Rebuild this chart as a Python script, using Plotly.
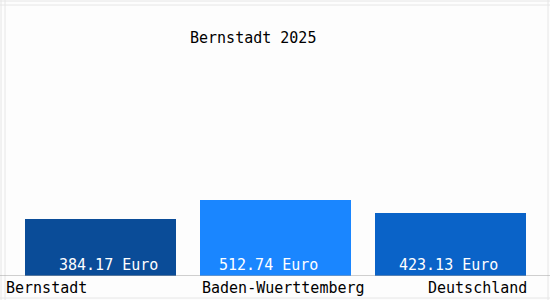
import plotly.graph_objects as go

categories = ["Bernstadt", "Baden-Wuerttemberg", "Deutschland"]
values = [384.17, 512.74, 423.13]
value_labels = ["384.17 Euro", "512.74 Euro", "423.13 Euro"]
colors = ["#0a4c98", "#1a86ff", "#0a63c8"]
title = "Bernstadt 2025"

FONT = "DejaVu Sans Mono"
xs = list(range(len(categories)))

fig = go.Figure()
fig.add_trace(go.Bar(
    x=xs, y=values, width=0.863,
    marker=dict(color=colors, line=dict(width=0)),
    hoverinfo="skip",
))

# value labels inside bars near the bottom
label_shift = [8, -7, -2]
for i, (lab, sh) in enumerate(zip(value_labels, label_shift)):
    fig.add_annotation(x=xs[i], y=0, text=lab, showarrow=False,
                       xanchor="center", yanchor="bottom", xshift=sh, yshift=0,
                       font=dict(family=FONT, size=15, color="white"))

# category labels below axis
anchors = ["left", "center", "right"]
xref_pos = [0.007, 0.515, 0.962]
for cat, anc, px in zip(categories, anchors, xref_pos):
    fig.add_annotation(x=px, xref="paper", y=-0.003, yref="paper", text=cat,
                       showarrow=False, xanchor=anc, yanchor="top",
                       font=dict(family=FONT, size=15, color="black"))

fig.add_annotation(x=0.46, xref="paper", y=1 - 27 / 276, yref="paper", text=title,
                   showarrow=False, xanchor="center", yanchor="top",
                   font=dict(family=FONT, size=15, color="black"))

# faint frame lines
frame = "#e6e6e6"
for (x0, y0, x1, y1) in [(1, 0, 1, 300), (5, 0, 5, 300), (0, 1, 550, 1), (0, 5, 550, 5),
                         (548, 0, 548, 300), (0, 298, 550, 298)]:
    fig.add_shape(type="line", xref="paper", yref="paper",
                  x0=x0 / 550, x1=x1 / 550, y0=(276 - y0) / 276, y1=(276 - y1) / 276,
                  line=dict(color=frame, width=1), layer="below")
# axis baseline
fig.add_shape(type="line", xref="paper", yref="y", x0=0, x1=1, y0=0, y1=0,
              line=dict(color="#a0a0a0", width=1))

fig.update_layout(
    width=550, height=300,
    margin=dict(l=0, r=0, t=0, b=24),
    paper_bgcolor="#fdfdfd", plot_bgcolor="#fdfdfd",
    showlegend=False,
    xaxis=dict(range=[-100.5 / 175, 449.5 / 175], visible=False, fixedrange=True),
    yaxis=dict(range=[0, 276 / 0.1478], visible=False, fixedrange=True),
    bargap=0,
)

fig.write_html("out.html", config={"displayModeBar": False})
